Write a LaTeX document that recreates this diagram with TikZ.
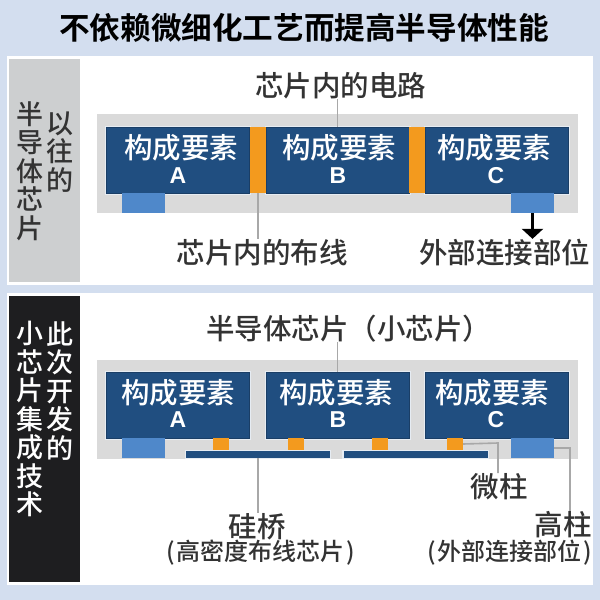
\documentclass[tikz,border=0pt]{standalone}
\usepackage{fontspec}
\usetikzlibrary{arrows.meta}
\setmainfont{Noto Sans CJK SC Medium}
\newfontfamily\titlefont{Noto Sans CJK SC Bold}
\newfontfamily\letterfont{Liberation Sans Bold}
\definecolor{pagebg}{HTML}{D3DEEF}
\definecolor{sidegray}{HTML}{CDCFD0}
\definecolor{sidedark}{HTML}{1E1E20}
\definecolor{bandgray}{HTML}{DADADA}
\definecolor{blockblue}{HTML}{204E80}
\definecolor{padblue}{HTML}{4F88CA}
\definecolor{wireorange}{HTML}{F39A1E}
\definecolor{labelgray}{HTML}{333333}
\definecolor{leadgray}{HTML}{A8A8A8}
\definecolor{halo}{HTML}{E6ECF3}
\tikzset{
  sidebar/.style={inner sep=0pt, minimum width=71pt},
  sidetext/.style={align=center, inner sep=0pt, font=\fontsize{27}{28.5}\selectfont},
  chipband/.style={fill=bandgray, inner sep=0pt, minimum width=481pt, minimum height=99pt},
  chipblock/.style={fill=blockblue, draw=blockblue!80!black, line width=0.7pt, inner sep=0pt,
    minimum width=143pt, minimum height=66pt,
    preaction={draw=halo, line width=3pt}},
  blockname/.style={text=white, font=\fontsize{28.5}{28.5}\selectfont, inner sep=0pt},
  blockletter/.style={text=white, font=\letterfont\fontsize{23}{23}\selectfont, inner sep=0pt},
  pad/.style={fill=padblue, inner sep=0pt, minimum width=43pt, minimum height=20pt},
  wire/.style={fill=wireorange, inner sep=0pt, minimum width=16pt, minimum height=66pt},
  pillar/.style={fill=wireorange, inner sep=0pt, minimum width=16pt, minimum height=12pt},
  bridge/.style={fill=blockblue, inner sep=0pt, minimum width=144pt, minimum height=7pt,
    preaction={draw=halo, line width=2.5pt}},
  biglabel/.style={text=labelgray, inner sep=0pt, font=\fontsize{28.5}{28.5}\selectfont},
  smalllabel/.style={text=labelgray, inner sep=0pt, font=\fontsize{24}{24}\selectfont},
  leader/.style={draw=leadgray, line width=1.6pt},
}
\begin{document}
\begin{tikzpicture}[x=1pt, y=-1pt]
  \useasboundingbox (0,0) rectangle (600,600);
  \fill[pagebg] (0,0) rectangle (600,600);
  \node[inner sep=0pt, font=\titlefont\fontsize{30.6}{30.6}\selectfont] (title) at (304,28) {不依赖微细化工艺而提高半导体性能};

  % upper panel
  \fill[white] (7,56) rectangle (593,285);
  \node[sidebar, fill=sidegray, minimum height=223pt] (sideold) at (44.5,170.5) {};
  \node[sidetext, text=labelgray] (sideoldb) at (30,171) {半\\导\\体\\芯\\片};
  \node[sidetext, text=labelgray] (sideolda) at (60,152) {以\\往\\的};
  \node[chipband] (bandold) at (337.5,163.5) {};
  \node[chipblock] (blockA) at (178,160) {};
  \node[chipblock] (blockB) at (337.5,160) {};
  \node[chipblock] (blockC) at (497,160) {};
  \node[wire] (wireab) at (258,160) {};
  \node[wire] (wirebc) at (417,160) {};
  \node[pad] (padA) at (143.5,203) {};
  \node[pad] (padC) at (532.5,203) {};
  \node[blockname] (nameA) at (181,147.5) {构成要素};
  \node[blockname] (nameB) at (339,147.5) {构成要素};
  \node[blockname] (nameC) at (494,147.5) {构成要素};
  \node[blockletter] (letterA) at (178,176) {A};
  \node[blockletter] (letterB) at (338,176) {B};
  \node[blockletter] (letterC) at (496,176) {C};
  \node[biglabel] (labcircuit) at (340.5,85.5) {芯片内的电路};
  \node[biglabel] (labwiring) at (262,252.5) {芯片内的布线};
  \node[biglabel] (labouter) at (504.5,252.5) {外部连接部位};
  \draw[leader] (blockB.north) -- (blockB.north |- labcircuit.south);
  \draw[leader] (wireab.south) -- (wireab.south |- labwiring.north);
  \draw[-{Triangle[length=10pt,width=21pt]}, line width=3pt] (padC.south) -- (padC.south |- labouter.north);

  % lower panel
  \fill[white] (7,293) rectangle (593,585);
  \node[sidebar, fill=sidedark, minimum height=286pt] (sidenew) at (44.5,439) {};
  \node[sidetext, text=white] (sidenewb) at (30,419) {小\\芯\\片\\集\\成\\技\\术};
  \node[sidetext, text=white] (sidenewa) at (60,391) {此\\次\\开\\发\\的};
  \node[chipband] (bandnew) at (337.5,409) {};
  \node[chipblock] (blockD) at (178,405) {};
  \node[chipblock] (blockE) at (337.5,405) {};
  \node[chipblock] (blockF) at (497,405) {};
  \node[pad] (padD) at (143.5,448) {};
  \node[pad] (padF) at (532.5,448) {};
  \node[bridge] (bridgeL) at (258,454.5) {};
  \node[bridge] (bridgeR) at (415.5,454.5) {};
  \node[pillar] (pillarA) at (221,444) {};
  \node[pillar] (pillarB) at (296,444) {};
  \node[pillar] (pillarC) at (380,444) {};
  \node[pillar] (pillarD) at (455,444) {};
  \node[blockname] (nameD) at (178,392.5) {构成要素};
  \node[blockname] (nameE) at (336,392.5) {构成要素};
  \node[blockname] (nameF) at (492,392.5) {构成要素};
  \node[blockletter] (letterD) at (178,420) {A};
  \node[blockletter] (letterE) at (338,420) {B};
  \node[blockletter] (letterF) at (496,420) {C};
  \node[biglabel] (labchip) at (348.5,328.5) {半导体芯片（小芯片）};
  \node[biglabel] (labbridge) at (257,526.5) {硅桥};
  \node[smalllabel] (labbridgeb) at (261,552.5) {(\kern2pt 高密度布线芯片\kern2pt )};
  \node[biglabel] (labpillar) at (499,486.5) {微柱};
  \node[biglabel] (labpost) at (563,524.5) {高柱};
  \node[smalllabel] (labpostb) at (510,552.5) {(\kern2pt 外部连接部位\kern2pt )};
  \draw[leader] (blockE.north) -- (blockE.north |- labchip.south);
  \draw[leader] (bridgeL.south) -- (bridgeL.south |- labbridge.north);
  \coordinate (bendpillar) at (498,443);
  \coordinate (bendpost) at (570,448);
  \draw[leader] (pillarD.east) -- (bendpillar) -- (bendpillar |- labpillar.north);
  \draw[leader] (padF.east) -- (bendpost) -- (bendpost |- labpost.north);
\end{tikzpicture}
\end{document}
